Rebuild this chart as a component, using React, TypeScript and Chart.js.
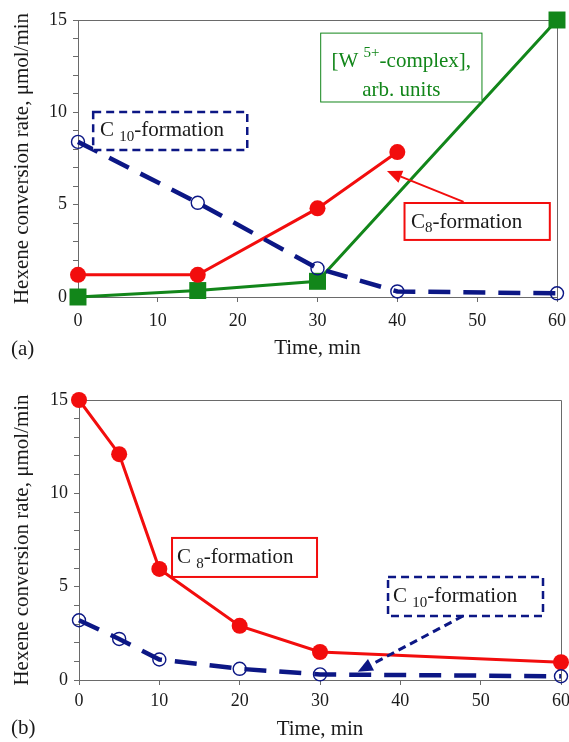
import React, { useEffect, useRef } from "react";
import { Chart, registerables } from "chart.js";

Chart.register(...registerables);

// ---------- data ----------
// Panel (a)
const timeA_C8 = [0, 15, 30, 40];
const rateA_C8 = [1.2, 1.2, 4.8, 7.85];
const timeA_W5 = [0, 15, 30, 60];
const valueA_W5 = [0, 0.35, 0.85, 15];
const timeA_C10 = [0, 15, 30, 40, 60];
const rateA_C10 = [8.4, 5.1, 1.55, 0.3, 0.2];

// Panel (b)
const timeB = [0, 5, 10, 20, 30, 60];
const rateB_C8 = [15, 12.1, 5.95, 2.9, 1.5, 0.95];
const rateB_C10 = [3.2, 2.2, 1.1, 0.6, 0.3, 0.2];

const xMin = 0;
const xMax = 60;
const xStep = 10;
const yMin = 0;
const yMax = 15;
const yLabelTicks = [0, 5, 10, 15];
const xTitle = "Time, min";
const yTitle = "Hexene conversion rate, \u03bcmol/min";

// ---------- styles ----------
const FONT = "'Liberation Serif', 'Times New Roman', serif";
const RED = "#f20d0d";
const GREEN = "#12861a";
const NAVY = "#0c1785";
const AXIS = "#6a6a6a";
const TEXT = "#1a1a1a";
const W = 569;

type Part = { t: string; sub?: boolean; sup?: boolean };
type Line = { parts: Part[]; x: number; y: number; align: "left" | "center" };
type Box = {
  x1: number; x2: number; y1: number; y2: number;
  stroke: string; lineWidth: number; dash?: number[];
  color: string; lines: Line[];
};
type Arrow = { fx: number; fy: number; tx: number; ty: number; color: string; lineWidth: number; dash?: number[] };

const SIZE = 21;

function drawRich(ctx: CanvasRenderingContext2D, parts: Part[], x: number, y: number, color: string, align: string) {
  const fontFor = (p: Part) => `${p.sub || p.sup ? Math.round(SIZE * 0.72) : SIZE}px ${FONT}`;
  const widths = parts.map((p) => {
    ctx.font = fontFor(p);
    return ctx.measureText(p.t).width;
  });
  const total = widths.reduce((a, b) => a + b, 0);
  let cx = align === "center" ? x - total / 2 : x;
  ctx.fillStyle = color;
  ctx.textBaseline = "middle";
  ctx.textAlign = "left";
  parts.forEach((p, i) => {
    ctx.font = fontFor(p);
    const dy = p.sub ? SIZE * 0.3 : p.sup ? -SIZE * 0.4 : 0;
    ctx.fillText(p.t, cx, y + dy);
    cx += widths[i];
  });
}

function makeAnnotPlugin(boxes: Box[], arrows: Arrow[], panelLabel: string, labelY: number) {
  return {
    id: "annot",
    beforeDatasetsDraw(chart: any) {
      const { ctx, chartArea } = chart;
      ctx.save();
      ctx.strokeStyle = AXIS;
      ctx.lineWidth = 1;
      ctx.beginPath();
      ctx.moveTo(chartArea.left, chartArea.top + 0.5);
      ctx.lineTo(chartArea.right + 0.5, chartArea.top + 0.5);
      ctx.lineTo(chartArea.right + 0.5, chartArea.bottom);
      ctx.stroke();
      ctx.restore();
    },
    afterDatasetsDraw(chart: any) {
      const { ctx } = chart;
      const xs = chart.scales.x;
      const ys = chart.scales.y;
      const px = (v: number) => xs.getPixelForValue(v);
      const py = (v: number) => ys.getPixelForValue(v);
      ctx.save();
      boxes.forEach((b) => {
        const l = px(b.x1), r = px(b.x2), t = py(b.y2), bt = py(b.y1);
        ctx.fillStyle = "#ffffff";
        ctx.fillRect(l, t, r - l, bt - t);
        ctx.setLineDash(b.dash || []);
        ctx.strokeStyle = b.stroke;
        ctx.lineWidth = b.lineWidth;
        ctx.strokeRect(l, t, r - l, bt - t);
        ctx.setLineDash([]);
        b.lines.forEach((ln) => drawRich(ctx, ln.parts, px(ln.x), py(ln.y), b.color, ln.align));
      });
      arrows.forEach((a) => {
        const fx = px(a.fx), fy = py(a.fy), tx = px(a.tx), ty = py(a.ty);
        const ang = Math.atan2(ty - fy, tx - fx);
        const headL = 15, headW = 6.5;
        const bx = tx - headL * Math.cos(ang), by = ty - headL * Math.sin(ang);
        ctx.strokeStyle = a.color;
        ctx.lineWidth = a.lineWidth;
        ctx.setLineDash(a.dash || []);
        ctx.beginPath();
        ctx.moveTo(fx, fy);
        ctx.lineTo(bx, by);
        ctx.stroke();
        ctx.setLineDash([]);
        ctx.fillStyle = a.color;
        ctx.beginPath();
        ctx.moveTo(tx, ty);
        ctx.lineTo(bx + headW * Math.sin(ang), by - headW * Math.cos(ang));
        ctx.lineTo(bx - headW * Math.sin(ang), by + headW * Math.cos(ang));
        ctx.closePath();
        ctx.fill();
      });
      ctx.font = `${SIZE}px ${FONT}`;
      ctx.fillStyle = TEXT;
      ctx.textAlign = "left";
      ctx.textBaseline = "middle";
      ctx.fillText(panelLabel, 11, labelY);
      ctx.restore();
    },
  };
}

type Series = {
  xs: number[]; ys: number[]; color: string; kind: "filledCircle" | "square" | "openCircle";
};

type PanelCfg = {
  top: number; height: number;
  plotLeft: number; plotRight: number; plotTop: number; plotBottom: number;
  xTickPad: number; xTitlePad: number;
  series: Series[]; boxes: Box[]; arrows: Arrow[];
  label: string; labelY: number;
};

function datasetFor(s: Series) {
  const data = s.xs.map((x, i) => ({ x, y: s.ys[i] }));
  const base: any = {
    data,
    borderColor: s.color,
    backgroundColor: s.color,
    tension: 0,
    clip: false,
    pointBorderColor: s.color,
  };
  if (s.kind === "filledCircle") {
    return { ...base, borderWidth: 3, pointStyle: "circle", pointRadius: 8, pointBackgroundColor: s.color, pointBorderWidth: 0 };
  }
  if (s.kind === "square") {
    return { ...base, borderWidth: 3, pointStyle: "rect", pointRadius: 12, pointBackgroundColor: s.color, pointBorderWidth: 0 };
  }
  return {
    ...base, borderWidth: 4.5, borderDash: [22, 13], pointStyle: "circle", pointRadius: 6.5,
    pointBackgroundColor: "rgba(0,0,0,0)", pointBorderWidth: 1.4,
  };
}

function Panel({ cfg }: { cfg: PanelCfg }) {
  const ref = useRef<HTMLCanvasElement>(null);
  useEffect(() => {
    const chart = new Chart(ref.current as HTMLCanvasElement, {
      type: "line",
      data: { datasets: cfg.series.map(datasetFor) as any },
      options: {
        responsive: false,
        animation: false,
        events: [],
        layout: { padding: { top: cfg.plotTop, right: W - cfg.plotRight, left: 0, bottom: 0 } },
        plugins: { legend: { display: false }, tooltip: { enabled: false } },
        scales: {
          x: {
            type: "linear",
            min: xMin,
            max: xMax,
            ticks: { stepSize: xStep, color: TEXT, font: { family: FONT, size: 18 }, padding: cfg.xTickPad, maxRotation: 0, autoSkip: false },
            grid: { drawOnChartArea: false, drawTicks: true, tickLength: 5, color: AXIS },
            border: { color: AXIS, width: 1 },
            title: { display: true, text: xTitle, color: TEXT, font: { family: FONT, size: SIZE }, padding: { top: 0, bottom: cfg.xTitlePad } },
            afterFit: (s: any) => {
              s.height = cfg.height - cfg.plotBottom;
              s.paddingLeft = 0;
              s.paddingRight = 0;
            },
          },
          y: {
            type: "linear",
            min: yMin,
            max: yMax,
            ticks: {
              stepSize: 1,
              autoSkip: false,
              color: TEXT,
              font: { family: FONT, size: 18 },
              padding: 6,
              callback: (v: any) => (yLabelTicks.includes(Number(v)) ? String(v) : ""),
            },
            grid: { drawOnChartArea: false, drawTicks: true, tickLength: 5, color: AXIS },
            border: { color: AXIS, width: 1 },
            title: { display: true, text: yTitle, color: TEXT, font: { family: FONT, size: SIZE }, padding: { top: 10, bottom: 0 } },
            afterFit: (s: any) => {
              s.width = cfg.plotLeft;
              s.paddingTop = 0;
              s.paddingBottom = 0;
            },
          },
        },
      } as any,
      plugins: [makeAnnotPlugin(cfg.boxes, cfg.arrows, cfg.label, cfg.labelY) as any],
    });
    return () => chart.destroy();
  }, []);
  return (
    <canvas
      ref={ref}
      width={W}
      height={cfg.height}
      style={{ position: "absolute", left: 0, top: cfg.top, width: W, height: cfg.height }}
    />
  );
}

const panelA: PanelCfg = {
  top: 0, height: 370,
  plotLeft: 78, plotRight: 559, plotTop: 20, plotBottom: 297,
  xTickPad: 8, xTitlePad: 9,
  series: [
    { xs: timeA_C10, ys: rateA_C10, color: NAVY, kind: "openCircle" },
    { xs: timeA_C8, ys: rateA_C8, color: RED, kind: "filledCircle" },
    { xs: timeA_W5, ys: valueA_W5, color: GREEN, kind: "square" },
  ],
  boxes: [
    {
      x1: 1.9, x2: 21.2, y1: 7.96, y2: 10.02, stroke: NAVY, lineWidth: 2.5, dash: [8, 5], color: TEXT,
      lines: [{ parts: [{ t: "C " }, { t: "10", sub: true }, { t: "-formation" }], x: 2.75, y: 9.0, align: "left" }],
    },
    {
      x1: 30.4, x2: 50.6, y1: 10.56, y2: 14.29, stroke: GREEN, lineWidth: 1, color: GREEN,
      lines: [
        { parts: [{ t: "[W " }, { t: "5+", sup: true }, { t: "-complex]," }], x: 40.5, y: 12.75, align: "center" },
        { parts: [{ t: "arb. units" }], x: 40.5, y: 11.2, align: "center" },
      ],
    },
    {
      x1: 40.9, x2: 59.1, y1: 3.09, y2: 5.09, stroke: RED, lineWidth: 2, color: TEXT,
      lines: [{ parts: [{ t: "C" }, { t: "8", sub: true }, { t: "-formation" }], x: 41.7, y: 4.06, align: "left" }],
    },
  ],
  arrows: [{ fx: 48.3, fy: 5.15, tx: 38.7, ty: 6.82, color: RED, lineWidth: 2 }],
  label: "(a)", labelY: 349,
};

const panelB: PanelCfg = {
  top: 370, height: 372,
  plotLeft: 79, plotRight: 561, plotTop: 30, plotBottom: 310,
  xTickPad: 5, xTitlePad: 0,
  series: [
    { xs: timeB, ys: rateB_C10, color: NAVY, kind: "openCircle" },
    { xs: timeB, ys: rateB_C8, color: RED, kind: "filledCircle" },
  ],
  boxes: [
    {
      x1: 11.58, x2: 29.63, y1: 5.52, y2: 7.61, stroke: RED, lineWidth: 2, color: TEXT,
      lines: [{ parts: [{ t: "C " }, { t: "8", sub: true }, { t: "-formation" }], x: 12.2, y: 6.56, align: "left" }],
    },
    {
      x1: 38.47, x2: 57.76, y1: 3.43, y2: 5.52, stroke: NAVY, lineWidth: 2.5, dash: [8, 5], color: TEXT,
      lines: [{ parts: [{ t: "C " }, { t: "10", sub: true }, { t: "-formation" }], x: 39.1, y: 4.47, align: "left" }],
    },
  ],
  arrows: [{ fx: 47.8, fy: 3.43, tx: 34.7, ty: 0.44, color: NAVY, lineWidth: 3, dash: [8, 5] }],
  label: "(b)", labelY: 358,
};

export default function App() {
  return (
    <div style={{ position: "absolute", left: 0, top: 0, width: W, height: 742, background: "#fff" }}>
      <Panel cfg={panelA} />
      <Panel cfg={panelB} />
    </div>
  );
}
